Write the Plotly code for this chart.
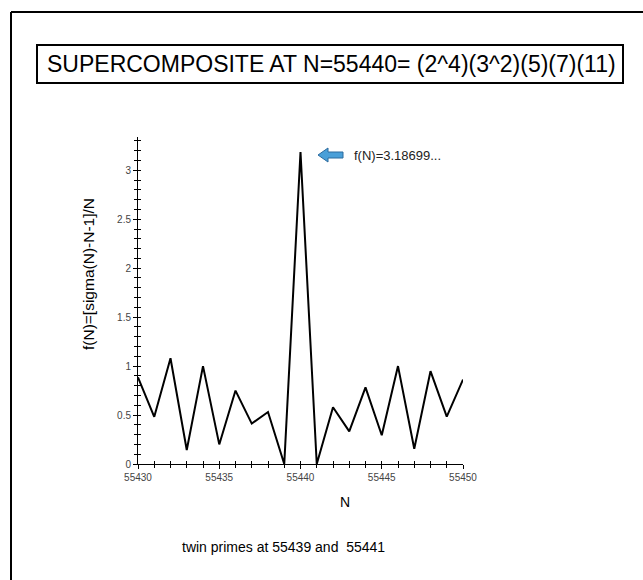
import plotly.graph_objects as go

N = list(range(55430, 55451))
f_values = [0.886, 0.482, 1.080, 0.143, 1.000, 0.200, 0.750, 0.413, 0.531, 0.0,
            3.18699, 0.0, 0.580, 0.333, 0.782, 0.294, 1.000, 0.156, 0.948, 0.483, 0.862]
x_ticks = [55430, 55435, 55440, 55445, 55450]
y_ticks = [0, 0.5, 1, 1.5, 2, 2.5, 3]
y_tick_labels = ["0", "0.5", "1", "1.5", "2", "2.5", "3"]

W, H = 643, 580
L, R, T, B = 138, 463, 137, 464  # plot area (figure px)


def px(x):
    return (x - L) / (R - L)


def py(y):
    return (B - y) / (B - T)


fig = go.Figure()
fig.add_trace(go.Scatter(x=N, y=f_values, mode="lines",
                         line=dict(color="black", width=2), showlegend=False,
                         hoverinfo="x+y"))
fig.add_trace(go.Scatter(x=[N[0]], y=[0], xaxis="x2", yaxis="y2", mode="markers",
                         marker=dict(opacity=0), showlegend=False, hoverinfo="skip"))

tickfont = dict(family="Liberation Sans, Arial", size=10, color="#444")
common_x = dict(range=[55430, 55450], showgrid=False, zeroline=False)
common_y = dict(range=[0, 3.34], showgrid=False, zeroline=False)

fig.update_layout(
    width=W, height=H,
    margin=dict(l=L, r=W - R, t=T, b=H - B),
    paper_bgcolor="white", plot_bgcolor="white",
    xaxis=dict(**common_x, showline=True, linecolor="black", linewidth=1,
               tickmode="array", tickvals=x_ticks, ticktext=[str(v) for v in x_ticks],
               ticks="outside", ticklen=4, tickcolor="black", tickfont=tickfont,
               minor=dict(dtick=1, ticks="outside", ticklen=3, tickcolor="black")),
    yaxis=dict(**common_y, showline=True, linecolor="black", linewidth=1,
               tickmode="array", tickvals=y_ticks, ticktext=y_tick_labels,
               ticks="outside", ticklen=4, tickcolor="black", tickfont=tickfont,
               minor=dict(dtick=0.1, ticks="outside", ticklen=3, tickcolor="black")),
    xaxis2=dict(**common_x, overlaying="x", showline=False, showticklabels=False,
                tickmode="array", tickvals=x_ticks, ticks="inside", ticklen=3,
                tickcolor="black",
                minor=dict(dtick=1, ticks="inside", ticklen=3, tickcolor="black")),
    yaxis2=dict(**common_y, overlaying="y", showline=False, showticklabels=False,
                tickmode="array", tickvals=y_ticks, ticks="inside", ticklen=3,
                tickcolor="black",
                minor=dict(dtick=0.1, ticks="inside", ticklen=3, tickcolor="black")),
    font=dict(family="Liberation Sans, Arial", color="black"),
)

shapes = []
# outer frame (top and left)
shapes.append(dict(type="line", xref="paper", yref="paper",
                   x0=px(11), x1=px(11), y0=py(590), y1=py(12),
                   line=dict(color="black", width=2)))
shapes.append(dict(type="line", xref="paper", yref="paper",
                   x0=px(11), x1=px(650), y0=py(12), y1=py(12),
                   line=dict(color="black", width=2)))
# title box
shapes.append(dict(type="rect", xref="paper", yref="paper",
                   x0=px(37), x1=px(623), y0=py(83), y1=py(45),
                   line=dict(color="black", width=2), fillcolor="rgba(0,0,0,0)"))
# block arrow
ap = [(318, 155), (328, 148), (328, 152), (343, 152), (343, 158), (328, 158), (328, 162)]
path = "M " + " L ".join(f"{px(a)},{py(b)}" for a, b in ap) + " Z"
shapes.append(dict(type="path", xref="paper", yref="paper", path=path,
                   fillcolor="#4a9fd8", line=dict(color="#2b6a9e", width=1)))
fig.update_layout(shapes=shapes)

ann = [
    dict(text="SUPERCOMPOSITE AT N=55440= (2^4)(3^2)(5)(7)(11)", x=px(331), y=py(64),
         font=dict(size=23)),
    dict(text="f(N)=3.18699...", x=px(352), y=py(155), xanchor="left",
         font=dict(size=13, color="#222")),
    dict(text="f(N)=[sigma(N)-N-1]/N", x=px(88), y=py(274), textangle=-90,
         font=dict(size=15.5)),
    dict(text="N", x=px(345), y=py(502), font=dict(size=14)),
    dict(text="twin primes at 55439 and  55441", x=px(180), y=py(547), xanchor="left",
         font=dict(size=14)),
]
for a in ann:
    a.setdefault("xanchor", "center")
    fig.add_annotation(xref="paper", yref="paper", showarrow=False, yanchor="middle", **a)

fig.write_html(
    "out.html",
    config={"displayModeBar": False},
    post_script="document.body.style.margin='0';document.body.style.overflow='hidden';"
                "document.documentElement.style.overflow='hidden';",
)
